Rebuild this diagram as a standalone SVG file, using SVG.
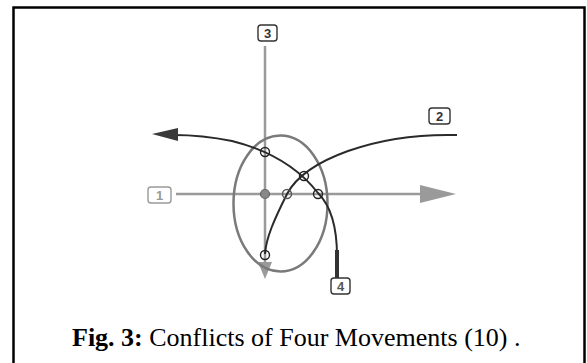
<svg xmlns="http://www.w3.org/2000/svg" width="587" height="363" viewBox="0 0 587 363">
<style>
.lbl rect{fill:#fff;stroke-width:1.4}
.lbl text{font-family:"Liberation Sans",Arial,sans-serif;font-weight:bold;font-size:13px;text-anchor:middle}
.gray{stroke:#9a9a9a;fill:none;stroke-width:2.5}
.dark{stroke:#2a2a2a;fill:none;stroke-width:2}
.pt{fill:none;stroke:#222;stroke-width:1.4}
.cap{font-family:"Liberation Serif","Times New Roman",serif;font-size:26px;fill:#000}
</style>
<rect x="0" y="0" width="587" height="363" fill="#fff"/>
<rect x="13.5" y="7.5" width="571" height="362" fill="none" stroke="#000" stroke-width="2.5"/>
<g id="connectors">
<path class="gray" d="M265 46 V264"/>
<polygon points="258,262 272,262 265,279" fill="#9a9a9a"/>
<path class="gray" d="M176 194 H424"/>
<polygon points="420,185 456,194 420,203" fill="#9a9a9a"/>
<ellipse cx="280.5" cy="203.5" rx="47" ry="68" fill="none" stroke="#7a7a7a" stroke-width="2.5"/>
<path class="dark" d="M457 135 C375 133 305 160 287 194 C274 220 266 238 265 254"/>
<path class="dark" d="M337 256 C337 226 331 206 318 193 C300 170 272 151 232 141 C212 137 192 135 174 135"/>
<polygon points="152,134 178,128 178,141" fill="#3a3a3a"/>
<path d="M337 250 V279" stroke="#333" stroke-width="4" fill="none"/>
</g>
<g id="conflicts">
<circle class="pt" cx="265" cy="152" r="4.5"/>
<circle class="pt" cx="304" cy="176" r="4.5"/>
<circle cx="265" cy="194" r="4.5" fill="#888" stroke="#666" stroke-width="1.2"/>
<circle cx="287" cy="194" r="4.5" fill="none" stroke="#555" stroke-width="1.4"/>
<circle class="pt" cx="318" cy="194" r="4.5"/>
<circle class="pt" cx="265" cy="255" r="4.5"/>
</g>
<g id="node1" class="lbl"><rect x="148" y="187" width="23" height="16" rx="3" stroke="#999"/><text x="159.5" y="200" fill="#999">1</text></g>
<g id="node2" class="lbl"><rect x="429" y="108" width="21" height="16" rx="3" stroke="#333"/><text x="439.5" y="121" fill="#333">2</text></g>
<g id="node3" class="lbl"><rect x="258" y="25" width="19" height="16" rx="3" stroke="#333"/><text x="267.5" y="38" fill="#333">3</text></g>
<g id="node4" class="lbl"><rect x="331" y="278" width="19" height="16" rx="3" stroke="#333"/><text x="340.5" y="291" fill="#555">4</text></g>
<text class="cap" x="72" y="346"><tspan font-weight="bold">Fig. 3:</tspan> Conflicts of Four Movements (10) .</text>
</svg>
